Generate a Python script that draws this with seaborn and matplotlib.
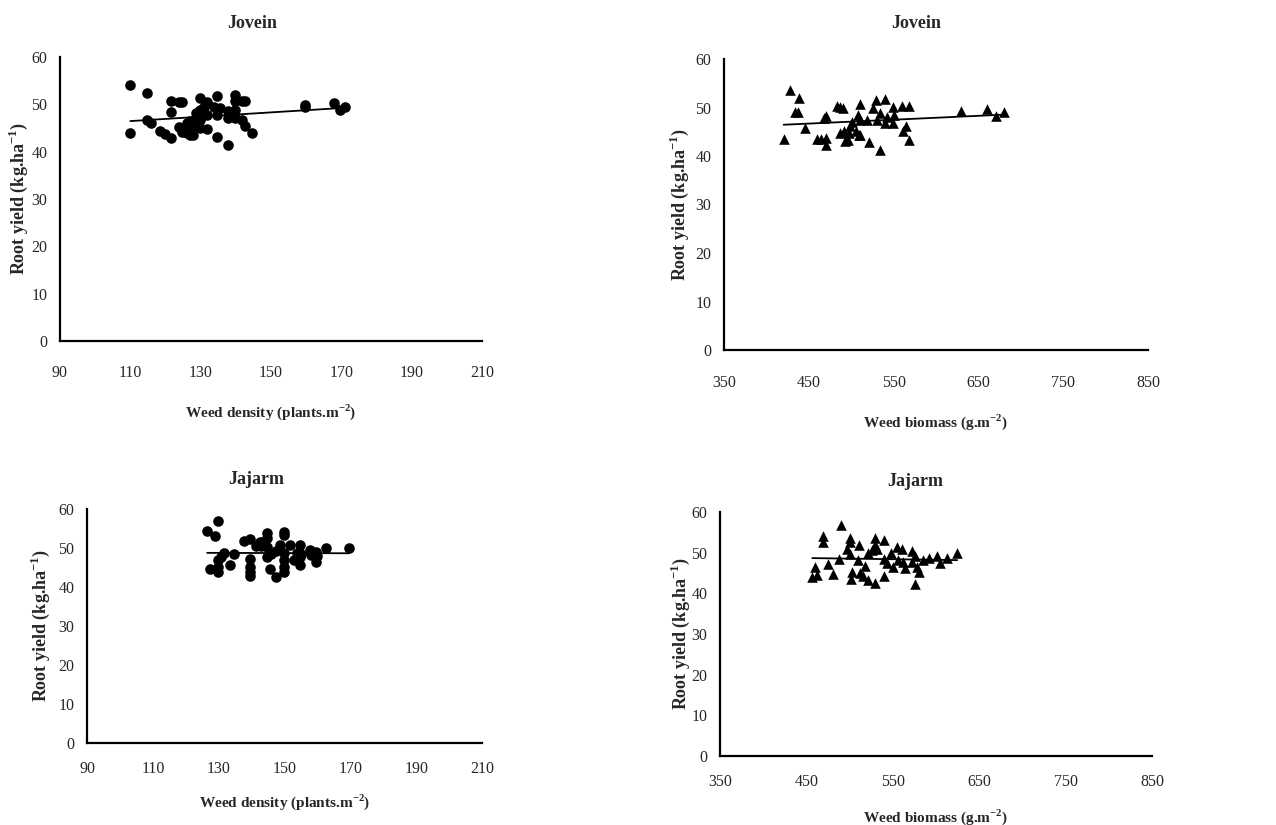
import numpy as np
import pandas as pd
import matplotlib
matplotlib.use('Agg')
import matplotlib.pyplot as plt
import seaborn as sns

# Jovein - weed density vs root yield
jovein_density = [110, 110, 114.6, 114.6, 116, 118.4, 119.8, 121.7, 121.7, 121.7,
                  123.8, 124.8, 123.8, 124.8, 126, 126.9, 126.9, 127.9, 127.9, 128.8,
                  129, 129.8, 129.8, 129.8, 129.8, 131.7, 131.7, 131.7, 133.8, 134.7,
                  134.7, 134.7, 135.6, 137.8, 137.8, 137.8, 139.9, 139.9, 139.9, 139.9,
                  141.8, 142.7, 141.8, 142.7, 144.7, 159.6, 159.6, 167.9, 169.7, 171,
                  130, 129, 131, 127, 126]
jovein_density_yield = [54.1, 43.9, 52.4, 46.6, 46.1, 44.3, 43.8, 50.8, 48.4, 42.9,
                        50.4, 50.4, 45.2, 44.1, 46.1, 46.4, 43.6, 43.6, 45.0, 48.2,
                        47.1, 51.3, 48.9, 46.6, 45.0, 50.4, 47.8, 44.8, 49.4, 51.7,
                        47.8, 43.2, 49.2, 48.5, 47.1, 41.5, 52.0, 50.6, 48.9, 47.1,
                        50.8, 50.8, 46.6, 45.5, 43.9, 49.9, 49.4, 50.3, 48.7, 49.4,
                        47.5, 46.0, 49.5, 45.5, 44.0]

# Jovein - weed biomass vs root yield
jovein_biomass = [420.4, 427.4, 433.3, 437.3, 438.4, 445.9, 459.7, 464.8, 467.9, 469.9,
                  469.9, 469.9, 483.3, 486.5, 490.4, 486.5, 491.1, 493.1, 496.2, 497.4,
                  499, 501, 506.1, 508, 508.8, 510, 510.8, 510.8, 519, 521,
                  525.7, 529.6, 530.4, 534.4, 533.6, 540.3, 540.3, 542.2, 549.3, 549.3,
                  550.5, 560.3, 561.1, 565, 568.2, 568.2, 629.9, 660.6, 671.2, 680.2]
jovein_biomass_yield = [43.5, 53.7, 49.1, 49.1, 52.0, 45.8, 43.5, 43.5, 47.8, 48.2,
                        43.7, 42.3, 50.4, 50.1, 49.9, 44.7, 45.1, 43.0, 43.4, 44.7,
                        46.1, 47.1, 45.1, 48.5, 44.4, 47.5, 50.8, 44.4, 47.5, 42.8,
                        49.9, 51.6, 47.5, 48.9, 41.3, 51.8, 46.8, 48.0, 50.2, 46.8,
                        48.5, 50.4, 45.1, 46.1, 50.4, 43.4, 49.2, 49.7, 48.3, 49.1]

# Jajarm - weed density vs root yield
jajarm_density = [126.5, 127.5, 128.8, 129.8, 129.8, 129.8, 129.8, 130.8, 131.6, 133.5,
                  134.6, 137.7, 139.6, 139.6, 139.6, 139.6, 139.6, 141.4, 142.7, 143,
                  144.8, 144.8, 144.8, 144.8, 145.7, 147.5, 147.5, 148.5, 149.8, 149.8,
                  149.8, 149.8, 149.8, 149.8, 151.8, 152.8, 153.8, 154.6, 154.6, 154.6,
                  157.6, 158.1, 159.7, 159.7, 162.7, 169.6, 143.5, 146, 155, 160]
jajarm_density_yield = [54.4, 44.5, 53.1, 57.0, 46.9, 45.2, 43.9, 47.8, 48.8, 45.6,
                        48.5, 51.8, 52.3, 47.2, 45.1, 43.9, 42.8, 50.6, 51.6, 50.6,
                        53.8, 52.5, 50.3, 47.8, 44.5, 49.3, 42.5, 50.8, 54.2, 53.3,
                        48.6, 46.8, 45.2, 43.8, 50.8, 46.9, 48.6, 50.8, 47.8, 45.6,
                        49.5, 48.2, 49.1, 46.5, 50.1, 50.1, 51.5, 48.5, 48.5, 48.0]

# Jajarm - weed biomass vs root yield
jajarm_biomass = [456.8, 459.9, 462.6, 469.5, 469.5, 474.5, 481.1, 487.6, 489.9, 497.3,
                  500.3, 500.3, 500.3, 501.1, 502.2, 509.9, 510.7, 511.9, 515, 518.4,
                  520.8, 520.8, 526.2, 529.3, 529.3, 529.3, 532, 539.7, 539.7, 539.7,
                  543.5, 547.4, 550.5, 555.1, 556.2, 560.1, 562, 563.9, 571.7, 571.7,
                  575.5, 575.5, 578.2, 580.5, 585.1, 591.7, 601.3, 604.4, 612.9, 624.5]
jajarm_biomass_yield = [44.0, 46.5, 44.4, 54.0, 52.6, 47.1, 44.8, 48.5, 56.7, 51.0,
                        53.7, 52.6, 49.6, 43.5, 45.3, 48.3, 52.0, 45.0, 44.2, 46.6,
                        43.4, 50.0, 50.6, 53.7, 52.0, 42.6, 51.0, 53.2, 48.5, 44.2,
                        47.5, 50.0, 46.5, 51.4, 48.3, 51.0, 47.7, 46.3, 50.4, 47.7,
                        49.3, 42.4, 46.5, 45.3, 48.1, 48.8, 49.1, 47.5, 48.8, 49.8]

density_ticks = list(range(90, 211, 20))
biomass_ticks = list(range(350, 851, 100))
yield_ticks = list(range(0, 61, 10))

W, H = 1276, 825

sns.set_style('white')
plt.rcParams['font.family'] = ['Liberation Serif', 'DejaVu Serif']
plt.rcParams['mathtext.fontset'] = 'custom'
plt.rcParams['mathtext.rm'] = 'Liberation Serif'
plt.rcParams['mathtext.bf'] = 'Liberation Serif:bold'

fig = plt.figure(figsize=(W / 100, H / 100), dpi=100)


def px_axes(left, top, right, bottom):
    """Axes from pixel box (left, top, right, bottom)."""
    return fig.add_axes([left / W, 1 - bottom / H, (right - left) / W, (bottom - top) / H])


def panel(ax, x, y, marker, xticks, xlabel, title, title_xy, xpad, ylab_x, xlab_y):
    df = pd.DataFrame({'x': x, 'y': y})
    sns.regplot(data=df, x='x', y='y', ax=ax, ci=None, color='black', marker=marker,
                scatter_kws={'s': 58, 'alpha': 1, 'linewidths': 0},
                line_kws={'lw': 1.3})
    ax.set_xlim(xticks[0], xticks[-1])
    ax.set_ylim(0, 60)
    ax.set_xticks(xticks)
    ax.set_yticks(yield_ticks)
    ax.tick_params(axis='x', length=0, pad=xpad, labelsize=11.5)
    ax.tick_params(axis='y', length=0, pad=9, labelsize=11.5)
    for s in ['top', 'right']:
        ax.spines[s].set_visible(False)
    for s in ['left', 'bottom']:
        ax.spines[s].set_color('black')
        ax.spines[s].set_linewidth(1.6)
    ax.set_xlabel(xlabel, fontsize=11, fontweight='bold')
    ax.set_ylabel(r'Root yield (kg.ha$^{\mathbf{-1}}$)', fontsize=13, fontweight='bold')
    ax.yaxis.set_label_coords(ylab_x, 0.5)
    ax.xaxis.set_label_coords(0.5, xlab_y)
    fig.text(title_xy[0] / W, 1 - title_xy[1] / H, title, ha='center', va='center',
             fontsize=13, fontweight='bold')


ax1 = px_axes(60, 57, 482, 341)
panel(ax1, jovein_density, jovein_density_yield, 'o', density_ticks,
      r'Weed density (plants.m$^{\mathbf{-2}}$)', 'Jovein', (252, 23), 17, -0.071, -0.215)

ax2 = px_axes(724, 59, 1148, 350)
panel(ax2, jovein_biomass, jovein_biomass_yield, '^', biomass_ticks,
      r'Weed biomass (g.m$^{\mathbf{-2}}$)', 'Jovein', (916, 23), 18, -0.078, -0.213)

ax3 = px_axes(87, 509, 482, 743)
panel(ax3, jajarm_density, jajarm_density_yield, 'o', density_ticks,
      r'Weed density (plants.m$^{\mathbf{-2}}$)', 'Jajarm', (256, 480), 13, -0.088, -0.209)

ax4 = px_axes(720, 512, 1152, 756)
panel(ax4, jajarm_biomass, jajarm_biomass_yield, '^', biomass_ticks,
      r'Weed biomass (g.m$^{\mathbf{-2}}$)', 'Jajarm', (915, 481), 13, -0.064, -0.212)

fig.savefig('out.png', dpi=100)
